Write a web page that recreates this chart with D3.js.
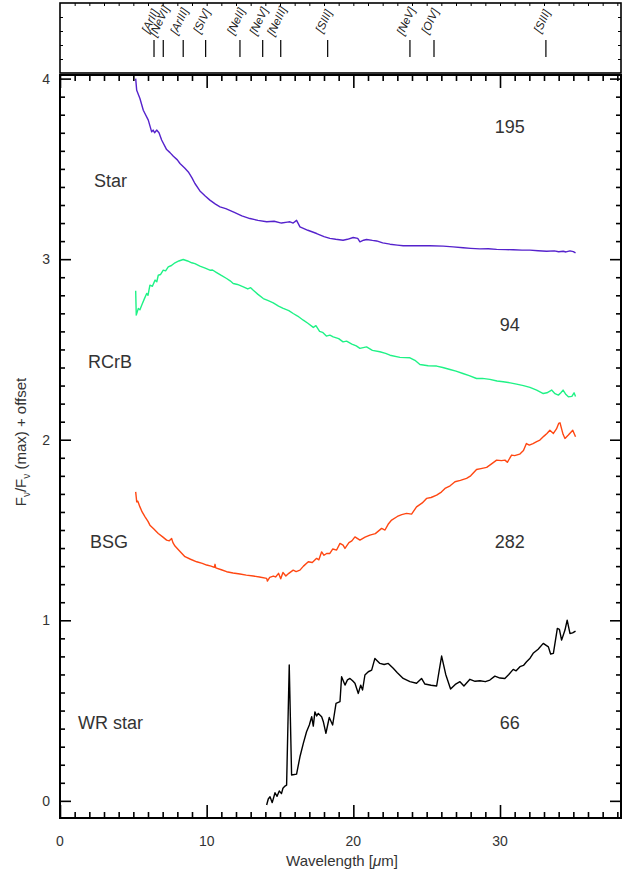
<!DOCTYPE html>
<html><head><meta charset="utf-8">
<script src="https://cdn.jsdelivr.net/npm/d3@7"></script>
<style>body{margin:0;background:#fff}svg{display:block}text{font-family:"Liberation Sans",Arial,Helvetica,sans-serif}</style>
</head><body>
<script>
// ---- data (wavelength in micron, normalised flux + offset) ----
const starData = [[5.16,4.00],[5.23,3.935],[5.45,3.89],[5.68,3.825],[6.02,3.77],[6.25,3.705],[6.35,3.715],[6.45,3.70],[6.59,3.715],[6.75,3.70],[6.93,3.66],[7.27,3.607],[7.5,3.59],[7.73,3.57],[8.0,3.55],[8.18,3.53],[8.5,3.505],[8.75,3.483],[9.0,3.45],[9.2,3.419],[9.54,3.378],[9.9,3.35],[10.22,3.327],[10.6,3.305],[10.91,3.29],[11.3,3.28],[11.81,3.262],[12.4,3.24],[12.95,3.225],[13.5,3.215],[14.09,3.207],[14.6,3.21],[15.1,3.20],[15.5,3.205],[15.68,3.207],[15.9,3.20],[16.13,3.215],[16.36,3.179],[16.9,3.16],[17.5,3.142],[18.0,3.125],[18.4,3.115],[18.8,3.11],[19.3,3.105],[19.6,3.11],[19.99,3.12],[20.3,3.115],[20.45,3.096],[20.7,3.105],[20.9,3.109],[21.3,3.104],[21.59,3.101],[22.0,3.09],[22.5,3.083],[23.0,3.078],[23.4,3.074],[24.2,3.075],[25.22,3.074],[26.13,3.072],[26.8,3.068],[27.49,3.063],[28.0,3.06],[28.63,3.057],[29.2,3.058],[29.77,3.054],[30.4,3.053],[30.9,3.052],[31.5,3.05],[32.04,3.05],[32.6,3.047],[33.18,3.044],[33.7,3.046],[34.0,3.041],[34.31,3.044],[34.5,3.04],[34.77,3.046],[35.0,3.042],[35.15,3.035]];
const rcrbData = [[5.16,2.825],[5.2,2.69],[5.34,2.727],[5.45,2.72],[5.57,2.745],[5.75,2.78],[5.91,2.81],[6.0,2.80],[6.13,2.856],[6.3,2.85],[6.48,2.884],[6.6,2.875],[6.7,2.911],[6.85,2.915],[7.04,2.939],[7.2,2.935],[7.38,2.957],[7.6,2.965],[7.84,2.98],[8.1,2.99],[8.4,2.998],[8.7,2.99],[8.98,2.98],[9.2,2.975],[9.54,2.961],[9.9,2.95],[10.22,2.939],[10.4,2.94],[10.68,2.926],[11.0,2.91],[11.36,2.893],[11.6,2.88],[11.81,2.865],[12.1,2.86],[12.5,2.847],[12.8,2.835],[13.0,2.842],[13.18,2.828],[13.5,2.805],[13.86,2.782],[14.2,2.77],[14.54,2.758],[14.9,2.74],[15.22,2.727],[15.6,2.715],[15.9,2.699],[16.2,2.685],[16.59,2.662],[16.9,2.645],[17.27,2.622],[17.45,2.632],[17.7,2.60],[17.9,2.595],[18.16,2.574],[18.4,2.579],[18.63,2.57],[19.0,2.56],[19.3,2.542],[19.54,2.546],[19.9,2.53],[20.2,2.52],[20.45,2.506],[20.9,2.514],[21.3,2.495],[21.81,2.487],[22.2,2.478],[22.5,2.468],[23.18,2.456],[23.86,2.454],[24.2,2.44],[24.54,2.417],[25.1,2.41],[25.68,2.408],[26.1,2.40],[26.59,2.389],[27.0,2.38],[27.47,2.367],[27.9,2.355],[28.4,2.339],[28.8,2.34],[29.31,2.334],[29.8,2.325],[30.22,2.321],[30.7,2.315],[31.13,2.308],[31.6,2.30],[32.04,2.29],[32.5,2.275],[32.95,2.256],[33.2,2.26],[33.52,2.275],[33.75,2.255],[33.98,2.247],[34.15,2.26],[34.3,2.275],[34.5,2.25],[34.66,2.238],[34.9,2.24],[35.05,2.26],[35.15,2.24]];
const bsgData = [[5.16,1.711],[5.2,1.68],[5.23,1.656],[5.3,1.66],[5.45,1.628],[5.6,1.60],[5.8,1.573],[6.0,1.548],[6.13,1.527],[6.4,1.505],[6.7,1.481],[7.0,1.462],[7.27,1.444],[7.45,1.44],[7.61,1.453],[7.7,1.43],[7.84,1.411],[8.2,1.38],[8.52,1.352],[8.9,1.338],[9.32,1.324],[9.7,1.315],[10.0,1.306],[10.3,1.30],[10.52,1.293],[10.57,1.31],[10.62,1.29],[11.0,1.28],[11.36,1.269],[11.8,1.262],[12.27,1.256],[12.7,1.25],[13.18,1.245],[13.6,1.24],[14.09,1.232],[14.14,1.217],[14.3,1.238],[14.54,1.245],[14.7,1.24],[14.9,1.26],[15.05,1.23],[15.2,1.265],[15.4,1.245],[15.6,1.26],[15.9,1.278],[16.1,1.27],[16.36,1.278],[16.6,1.30],[16.93,1.324],[17.2,1.32],[17.5,1.343],[17.65,1.335],[17.84,1.379],[18.0,1.36],[18.18,1.37],[18.4,1.37],[18.6,1.395],[18.86,1.389],[19.09,1.426],[19.3,1.416],[19.43,1.398],[19.7,1.43],[19.9,1.44],[20.11,1.462],[20.45,1.444],[20.8,1.46],[21.13,1.472],[21.5,1.48],[21.93,1.509],[22.16,1.5],[22.4,1.535],[22.61,1.555],[23.0,1.575],[23.3,1.585],[23.63,1.592],[23.97,1.588],[24.31,1.628],[24.7,1.65],[24.99,1.675],[25.3,1.68],[25.68,1.693],[26.0,1.71],[26.25,1.73],[26.6,1.745],[26.93,1.767],[27.3,1.775],[27.72,1.786],[28.0,1.80],[28.4,1.835],[28.7,1.84],[29.09,1.847],[29.4,1.865],[29.77,1.887],[30.1,1.884],[30.34,1.887],[30.5,1.875],[30.79,1.915],[31.0,1.912],[31.34,1.92],[31.6,1.94],[31.8,1.979],[32.0,1.97],[32.25,1.979],[32.5,1.99],[32.72,1.998],[33.0,2.02],[33.2,2.035],[33.4,2.053],[33.64,2.035],[33.85,2.06],[34.0,2.09],[34.09,2.094],[34.2,2.06],[34.3,2.03],[34.43,2.007],[34.66,2.026],[34.96,2.053],[35.15,2.016]];
const wrData = [[14.09,-0.023],[14.2,0.01],[14.32,0.023],[14.47,-0.01],[14.66,0.045],[14.8,0.025],[14.95,0.055],[15.1,0.04],[15.2,0.07],[15.34,0.082],[15.45,0.087],[15.63,0.752],[15.79,0.143],[16.13,0.148],[16.36,0.244],[16.59,0.318],[16.81,0.383],[17.0,0.42],[17.16,0.466],[17.27,0.414],[17.38,0.493],[17.5,0.47],[17.61,0.484],[17.84,0.466],[17.95,0.44],[18.13,0.374],[18.25,0.42],[18.36,0.462],[18.59,0.42],[18.82,0.54],[19.09,0.549],[19.2,0.687],[19.43,0.641],[19.6,0.67],[19.77,0.678],[19.95,0.665],[20.11,0.651],[20.34,0.595],[20.5,0.641],[20.63,0.614],[20.79,0.697],[21.02,0.715],[21.25,0.724],[21.47,0.789],[21.81,0.761],[22.1,0.755],[22.38,0.761],[22.72,0.734],[23.0,0.71],[23.4,0.678],[23.86,0.66],[24.31,0.651],[24.65,0.678],[24.88,0.647],[25.3,0.64],[25.68,0.636],[25.85,0.72],[26.02,0.802],[26.3,0.70],[26.63,0.619],[26.95,0.645],[27.27,0.66],[27.54,0.636],[27.95,0.673],[28.3,0.662],[28.63,0.665],[29.0,0.66],[29.31,0.669],[29.65,0.691],[30.0,0.68],[30.33,0.678],[30.6,0.70],[30.9,0.728],[31.1,0.72],[31.36,0.743],[31.6,0.75],[31.81,0.77],[32.05,0.79],[32.26,0.817],[32.6,0.84],[32.95,0.872],[33.3,0.853],[33.45,0.813],[33.64,0.817],[33.91,0.955],[34.05,0.95],[34.2,0.89],[34.43,0.946],[34.58,1.001],[34.77,0.927],[34.95,0.93],[35.15,0.94]];

const seriesNames = ["Star","RCrB","BSG","WR star"];
const seriesNumbers = ["195","94","282","66"];
const seriesColors = ["#5522cc","#1ff286","#ff4712","#000000"];
const labelY = [3.40, 2.40, 1.40, 0.40];
const numberY = [3.70, 2.60, 1.40, 0.40];

const lineNames = ["[ArII]","[NeVI]","[ArIII]","[SIV]","[NeII]","[NeV]","[NeIII]","[SIII]","[NeV]","[OIV]","[SIII]"];
const linePos = [6.41,7.04,8.40,9.93,12.27,13.82,15.05,18.25,23.86,25.5,33.13];

const xTicks = [0,10,20,30];
const yTicks = [0,1,2,3,4];

// ---- layout ----
const W=640,H=877;
const L=60,R=621,T=75,B=818;
const TT=3,TB=73;
const svg=d3.select("body").append("svg").attr("width",W).attr("height",H);
const x=d3.scaleLinear().domain([0,38.25]).range([L,R]);
const y=d3.scaleLinear().domain([-0.095,4.02]).range([B,T]);

// curves
const line=d3.line().x(d=>x(d[0])).y(d=>y(d[1]));
[starData,rcrbData,bsgData,wrData].forEach((d,i)=>{
  svg.append("path").datum(d).attr("d",line).attr("fill","none")
    .attr("stroke",seriesColors[i]).attr("stroke-width",1.4).attr("stroke-linejoin","round");
});

// labels
seriesNames.forEach((n,i)=>{
  svg.append("text").attr("x",[94,88,90,78][i]).attr("y",y(labelY[i])).attr("font-size",18).attr("fill","#333").text(n);
  svg.append("text").attr("x",x(30.67)).attr("y",y(numberY[i])).attr("text-anchor","middle").attr("font-size",18).attr("fill","#333").text(seriesNumbers[i]);
});

// axes of main plot
function minorArr(a,b,s){const r=[];for(let v=a;v<=b+1e-9;v+=s)r.push(+v.toFixed(4));return r;}
const xMinor=minorArr(1,38,1).filter(v=>v%10!==0);
const yMinor=minorArr(-0.0,4.0,0.1).filter(v=>Math.abs(v-Math.round(v))>1e-6);
const gB=svg.append("g").attr("transform",`translate(0,${B})`).call(d3.axisTop(x).tickValues(xTicks).tickSize(13).tickFormat(""));
const gBm=svg.append("g").attr("transform",`translate(0,${B})`).call(d3.axisTop(x).tickValues(xMinor).tickSize(6).tickFormat(""));
const gT=svg.append("g").attr("transform",`translate(0,${T})`).call(d3.axisBottom(x).tickValues(xTicks).tickSize(13).tickFormat(""));
const gTm=svg.append("g").attr("transform",`translate(0,${T})`).call(d3.axisBottom(x).tickValues(xMinor).tickSize(6).tickFormat(""));
const gL=svg.append("g").attr("transform",`translate(${L},0)`).call(d3.axisRight(y).tickValues(yTicks).tickSize(11).tickFormat(""));
const gLm=svg.append("g").attr("transform",`translate(${L},0)`).call(d3.axisRight(y).tickValues(yMinor).tickSize(5).tickFormat(""));
const gR=svg.append("g").attr("transform",`translate(${R},0)`).call(d3.axisLeft(y).tickValues(yTicks).tickSize(11).tickFormat(""));
const gRm=svg.append("g").attr("transform",`translate(${R},0)`).call(d3.axisLeft(y).tickValues(yMinor).tickSize(5).tickFormat(""));
[gB,gBm,gT,gTm,gL,gLm,gR,gRm].forEach(g=>{g.select(".domain").remove();g.selectAll("line").attr("stroke","#000").attr("stroke-width",1.6);});
svg.append("rect").attr("x",L).attr("y",T).attr("width",R-L).attr("height",B-T).attr("fill","none").attr("stroke","#000").attr("stroke-width",2);

// tick labels
xTicks.forEach(v=>svg.append("text").attr("x",x(v)).attr("y",846).attr("text-anchor","middle").attr("font-size",14).attr("fill","#333").text(v));
yTicks.forEach(v=>svg.append("text").attr("x",50).attr("y",y(v)+5).attr("text-anchor","end").attr("font-size",14).attr("fill","#333").text(v));

// axis titles
const xt=svg.append("text").attr("x",342).attr("y",866).attr("text-anchor","middle").attr("font-size",15).attr("fill","#333");
xt.append("tspan").text("Wavelength [");
xt.append("tspan").attr("font-style","italic").text("\u03bc");
xt.append("tspan").text("m]");
const yt=svg.append("text").attr("transform","translate(26,442) rotate(-90)").attr("text-anchor","middle").attr("font-size",15).attr("fill","#333");
yt.append("tspan").text("F");
yt.append("tspan").attr("font-size",10).attr("dy",4).text("\u03bd");
yt.append("tspan").attr("dy",-4).text("/F");
yt.append("tspan").attr("font-size",10).attr("dy",4).text("\u03bd");
yt.append("tspan").attr("dy",-4).text(" (max)  +  offset");

// top panel
svg.append("rect").attr("x",L).attr("y",TT).attr("width",R-L).attr("height",TB-TT).attr("fill","none").attr("stroke","#000").attr("stroke-width",1.6);
const topTicks=minorArr(1,38,1);
const gTop=svg.append("g").attr("transform",`translate(0,${TT})`).call(d3.axisBottom(x).tickValues(topTicks).tickSize(3).tickFormat(""));
gTop.select(".domain").remove();gTop.selectAll("line").attr("stroke","#000").attr("stroke-width",1);
const yTop=d3.scaleLinear().domain([0,5]).range([TB,TT]);
const gTopL=svg.append("g").attr("transform",`translate(${L},0)`).call(d3.axisRight(yTop).tickValues([1,2,3,4]).tickSize(3).tickFormat(""));
const gTopR=svg.append("g").attr("transform",`translate(${R},0)`).call(d3.axisLeft(yTop).tickValues([1,2,3,4]).tickSize(3).tickFormat(""));
[gTopL,gTopR].forEach(g=>{g.select(".domain").remove();g.selectAll("line").attr("stroke","#000").attr("stroke-width",1);});
linePos.forEach((p,i)=>{
  svg.append("line").attr("x1",x(p)).attr("x2",x(p)).attr("y1",40).attr("y2",57).attr("stroke","#000").attr("stroke-width",1.2);
  svg.append("text").attr("transform",`translate(${x(p)-4},21) rotate(-65)`).attr("text-anchor","middle").attr("dominant-baseline","central")
    .attr("font-size",11.5).attr("font-style","italic").attr("fill","#222").text(lineNames[i]);
});
</script>
</body></html>
